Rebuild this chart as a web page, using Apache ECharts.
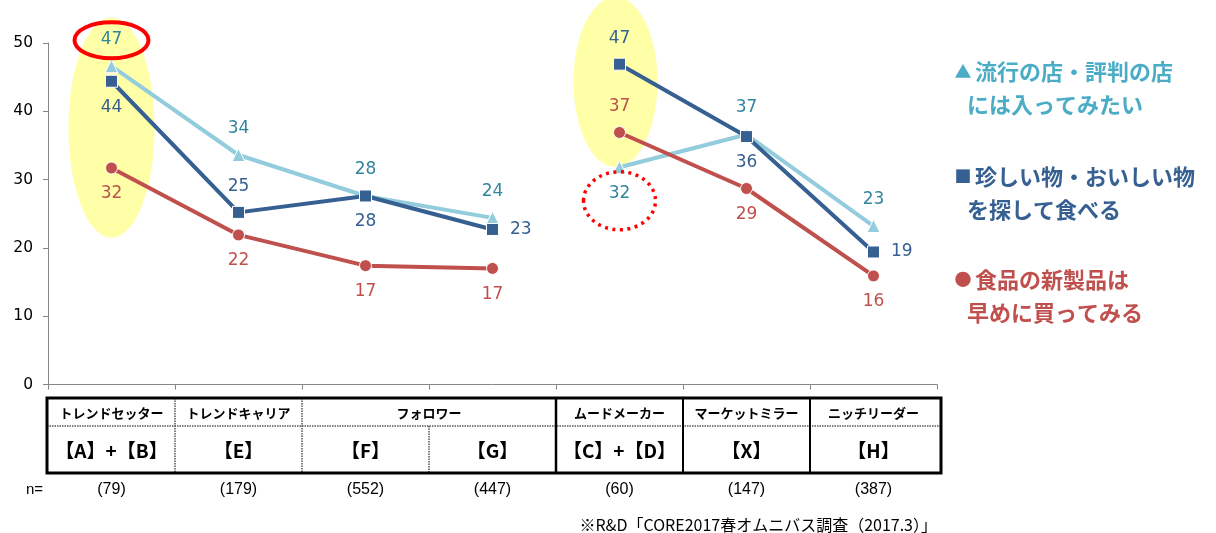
<!DOCTYPE html>
<html><head><meta charset="utf-8">
<script src="https://cdn.jsdelivr.net/npm/echarts@6/dist/echarts.min.js"></script>
<style>html,body{margin:0;padding:0;background:#fff}#c{width:1216px;height:533px}</style>
</head><body><div id="c"></div>
<script>
// ---- data ----
const categories = ['【A】+【B】', '【E】', '【F】', '【G】', '【C】+【D】', '【X】', '【H】'];
const segmentNames = ['トレンドセッター', 'トレンドキャリア', 'フォロワー', 'ムードメーカー', 'マーケットミラー', 'ニッチリーダー'];
const segmentSpans = [1, 1, 2, 1, 1, 1];
const sampleSizes = ['(79)', '(179)', '(552)', '(447)', '(60)', '(147)', '(387)'];
const yTicks = [0, 10, 20, 30, 40, 50];
const trendShop = [46.6, 33.6, 27.6, 24.4, 31.8, 36.6, 23.2];
const rareFood = [44.4, 25.2, 27.6, 22.7, 46.9, 36.3, 19.4];
const newProduct = [31.7, 21.9, 17.4, 17.0, 36.9, 28.7, 15.9];
const seriesNames = ['流行の店・評判の店には入ってみたい', '珍しい物・おいしい物を探して食べる', '食品の新製品は早めに買ってみる'];
const legendMarks = ['▲', '■', '●'];
const legendLines = [
  ['流行の店・評判の店', 'には入ってみたい'],
  ['珍しい物・おいしい物', 'を探して食べる'],
  ['食品の新製品は', '早めに買ってみる']
];
const footnote = '※R&D「CORE2017春オムニバス調査（2017.3）」';

// ---- label placement (style) ----
const trendPos = ['top', 'top', 'top', 'top', 'bottom', 'top', 'top'];
const rarePos = ['bottom', 'top', 'bottom', 'right', 'top', 'bottom', 'right'];
const newPos = ['bottom', 'bottom', 'bottom', 'bottom', 'top', 'bottom', 'bottom'];

const colors = {
  trend: '#93CDDD', trendLabel: '#31859C', trendLegend: '#4BACC6',
  rare: '#376092', rareLabel: '#376092',
  newp: '#C0504D', newpLabel: '#C0504D'
};

const chart = echarts.init(document.getElementById('c'), null, { renderer: 'canvas' });

const parts = [[0, 3], [4, 6]];
function makeSeries(name, values, pos, lineColor, labelColor, symbol, size) {
  return parts.map(([a, b]) => ({
    name: name,
    type: 'line',
    symbol: symbol,
    symbolSize: size,
    lineStyle: { color: lineColor, width: 4 },
    itemStyle: { color: lineColor, borderColor: '#fff', borderWidth: 1 },
    label: {
      show: true,
      color: labelColor,
      fontFamily: 'DejaVu Sans',
      fontSize: 17,
      distance: 11,
      formatter: p => Math.round(p.value)
    },
    emphasis: { disabled: true },
    data: values.map((v, i) => (i >= a && i <= b) ? { value: v, label: { position: pos[i] } } : '-')
  }));
}

const series = [
  ...makeSeries(seriesNames[0], trendShop, trendPos, colors.trend, colors.trendLabel, 'triangle', 13),
  ...makeSeries(seriesNames[1], rareFood, rarePos, colors.rare, colors.rareLabel, 'rect', 12),
  ...makeSeries(seriesNames[2], newProduct, newPos, colors.newp, colors.newpLabel, 'circle', 12)
];

const option = {
  animation: false,
  backgroundColor: '#fff',
  grid: { left: 48, right: 279, top: 43, bottom: 148.5, containLabel: false },
  xAxis: {
    type: 'category',
    data: categories,
    boundaryGap: true,
    axisLine: { lineStyle: { color: '#868686', width: 1 } },
    axisTick: { show: true, length: 5, lineStyle: { color: '#868686' } },
    axisLabel: { show: false }
  },
  yAxis: {
    type: 'value',
    min: yTicks[0],
    max: yTicks[yTicks.length - 1],
    interval: yTicks[1] - yTicks[0],
    axisLine: { show: true, lineStyle: { color: '#868686', width: 1 } },
    axisTick: { show: true, length: 5, lineStyle: { color: '#868686' } },
    splitLine: { show: false },
    axisLabel: { color: '#000', fontFamily: 'DejaVu Sans', fontSize: 15.5, margin: 15 }
  },
  series: series
};
chart.setOption(option);

// ---- annotations, table, legend ----
const px = (i, v) => chart.convertToPixel({ xAxisIndex: 0, yAxisIndex: 0 }, [i, v]);
const g = [];
const yZero = px(0, 0)[1];
const colW = px(1, 0)[0] - px(0, 0)[0];
const gridLeft = px(0, 0)[0] - colW / 2;

// yellow highlight ellipses
g.push({ type: 'ellipse', z: 0, shape: { cx: px(0, 0)[0], cy: px(0, 37.6)[1], rx: 43, ry: 110 }, style: { fill: '#FFFF99', opacity: 0.85 } });
g.push({ type: 'ellipse', z: 0, shape: { cx: px(4, 0)[0] - 4, cy: px(0, 44.3)[1], rx: 42, ry: 85 }, style: { fill: '#FFFF99', opacity: 0.85 } });
// red rings
g.push({ type: 'ellipse', z: 100, shape: { cx: px(0, 0)[0], cy: px(0, 50.4)[1], rx: 37, ry: 18 }, style: { fill: 'none', stroke: '#FF0000', lineWidth: 4 } });
g.push({ type: 'ellipse', z: 100, shape: { cx: px(4, 0)[0], cy: px(0, 26.9)[1], rx: 36, ry: 29 }, style: { fill: 'none', stroke: '#FF0000', lineWidth: 3.5, lineDash: [3, 4.5] } });

// table
const tL = gridLeft - 1, tR = gridLeft + colW * 7 + 4, tT = yZero + 13.5, tM = yZero + 41.5, tB = yZero + 88.5;
const colX = i => gridLeft + colW * i;
function line(x1, y1, x2, y2, w, dash, color) {
  g.push({ type: 'line', z: 50, shape: { x1, y1, x2, y2 }, style: { stroke: color || '#000', lineWidth: w, lineDash: dash || null } });
}
line(tL, tM, tR, tM, 1.5, [1.5, 1], '#555');
line(colX(1), tT, colX(1), tB, 1.5, [1.5, 1], '#555');
line(colX(2), tT, colX(2), tB, 1.5, [1.5, 1], '#555');
line(colX(3), tM, colX(3), tB, 1.5, [1.5, 1], '#555');
line(colX(4), tT, colX(4), tB, 2.5);
line(colX(5), tT, colX(5), tB, 2);
line(colX(6), tT, colX(6), tB, 2);
g.push({ type: 'rect', z: 51, shape: { x: tL, y: tT, width: tR - tL, height: tB - tT }, style: { fill: 'none', stroke: '#000', lineWidth: 3 } });

// header row
let idx = 0;
segmentNames.forEach((s, k) => {
  const span = segmentSpans[k];
  const cx = colX(idx) + colW * span / 2;
  g.push({ type: 'text', z: 52, x: cx, y: (tT + tM) / 2 + 1, style: { text: s, fill: '#000', font: 'bold 13px "Noto Sans CJK JP"', align: 'center', verticalAlign: 'middle' } });
  idx += span;
});
// category row + n row
categories.forEach((c, i) => {
  g.push({ type: 'text', z: 52, x: px(i, 0)[0], y: (tM + tB) / 2 + 1, style: { text: c, fill: '#000', font: 'bold 19px "Noto Sans CJK JP"', align: 'center', verticalAlign: 'middle' } });
  g.push({ type: 'text', z: 52, x: px(i, 0)[0], y: tB + 17, style: { text: sampleSizes[i], fill: '#000', font: '16px "Liberation Sans"', align: 'center', verticalAlign: 'middle' } });
});
g.push({ type: 'text', z: 52, x: 43, y: tB + 17, style: { text: 'n=', fill: '#000', font: '15px "Liberation Sans"', align: 'right', verticalAlign: 'middle' } });
g.push({ type: 'text', z: 52, x: tR - 4, y: 525, style: { text: footnote, fill: '#000', font: '16px "Noto Sans CJK JP"', align: 'right', verticalAlign: 'middle' } });

// legend
const legendColors = [colors.trendLegend, colors.rare, colors.newp];
const legendY = [72, 177, 280];
legendLines.forEach((ls, k) => {
  g.push({ type: 'text', z: 52, x: 963, y: legendY[k], style: { text: legendMarks[k], fill: legendColors[k], font: 'bold 17px "Noto Sans CJK JP"', align: 'center', verticalAlign: 'middle' } });
  g.push({ type: 'text', z: 52, x: 975, y: legendY[k], style: { text: ls[0], fill: legendColors[k], font: 'bold 22px "Noto Sans CJK JP"', align: 'left', verticalAlign: 'middle' } });
  g.push({ type: 'text', z: 52, x: 967, y: legendY[k] + 33, style: { text: ls[1], fill: legendColors[k], font: 'bold 22px "Noto Sans CJK JP"', align: 'left', verticalAlign: 'middle' } });
});

chart.setOption({ graphic: { elements: g } });
</script>
</body></html>
